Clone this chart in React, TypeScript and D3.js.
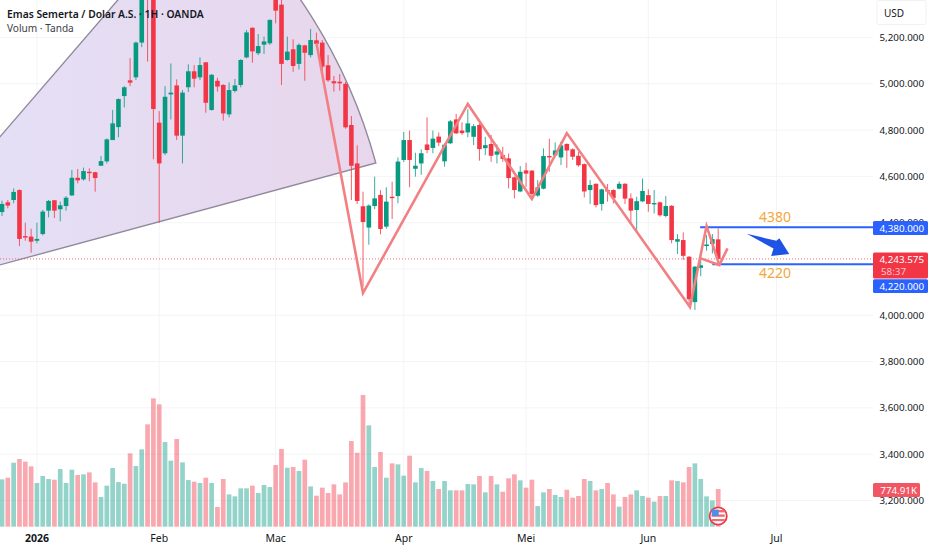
import React from "react";
import * as d3 from "d3";

const opens = [
  4446, 4488, 4498, 4541, 4342, 4340, 4322, 4351, 4452, 4497,
  4458, 4472, 4518, 4594, 4587, 4620, 4618, 4646, 4665, 4757,
  4813, 4947, 5015, 5028, 5178, 5560, 5395, 4832, 4700, 4954,
  4993, 4776, 4985, 5054, 5028, 5093, 4887, 5013, 4995, 4868,
  4969, 4995, 5114, 5242, 5132, 5169, 5175, 5420, 5342, 5103,
  5149, 5086, 5166, 5124, 5188, 5178, 5080, 5011, 5009, 5000,
  4822, 4656, 4471, 4379, 4472, 4520, 4383, 4512, 4515, 4671,
  4757, 4633, 4656, 4738, 4723, 4772, 4665, 4743, 4846, 4798,
  4790, 4771, 4822, 4722, 4740, 4694, 4692, 4678, 4596, 4535,
  4626, 4625, 4517, 4547, 4688, 4691, 4682, 4740, 4717, 4689,
  4653, 4541, 4568, 4481, 4541, 4541, 4547, 4568, 4505, 4455,
  4492, 4519, 4481, 4488, 4429, 4473, 4318, 4325, 4253, 4057,
  4205, 4299, 4308, 4328,
];
const highs = [
  4495, 4498, 4548, 4544, 4400, 4374, 4400, 4455, 4498, 4498,
  4491, 4515, 4628, 4632, 4638, 4635, 4620, 4688, 4764, 4887,
  4937, 4990, 5111, 5182, 5448, 5600, 5450, 4882, 4990, 5088,
  5019, 4973, 5084, 5081, 5114, 5093, 5042, 5026, 4998, 5006,
  5021, 5106, 5232, 5244, 5215, 5204, 5278, 5430, 5370, 5204,
  5192, 5175, 5168, 5237, 5221, 5189, 5124, 5034, 5042, 5009,
  4861, 4734, 4534, 4479, 4599, 4541, 4553, 4577, 4682, 4792,
  4798, 4702, 4717, 4855, 4798, 4790, 4743, 4844, 4870, 4834,
  4890, 4826, 4829, 4771, 4779, 4738, 4728, 4699, 4599, 4645,
  4659, 4627, 4584, 4721, 4763, 4747, 4750, 4743, 4721, 4707,
  4656, 4584, 4570, 4547, 4567, 4544, 4578, 4571, 4527, 4512,
  4591, 4544, 4541, 4491, 4515, 4476, 4351, 4358, 4256, 4213,
  4253, 4347, 4351, 4375,
];
const lows = [
  4429, 4462, 4484, 4299, 4322, 4270, 4311, 4345, 4423, 4420,
  4406, 4452, 4515, 4570, 4582, 4579, 4534, 4645, 4656, 4757,
  4769, 4898, 4990, 5016, 5158, 5096, 4674, 4400, 4692, 4846,
  4757, 4656, 4965, 4985, 5016, 4875, 4884, 4966, 4841, 4855,
  4962, 4985, 5110, 5091, 5124, 5129, 5168, 5261, 4995, 5100,
  5052, 5062, 5013, 5114, 5169, 5052, 5008, 4966, 4970, 4806,
  4498, 4481, 4124, 4305, 4458, 4350, 4374, 4416, 4484, 4662,
  4553, 4599, 4607, 4700, 4700, 4731, 4642, 4740, 4783, 4779,
  4769, 4735, 4668, 4692, 4663, 4656, 4663, 4548, 4505, 4532,
  4555, 4505, 4512, 4544, 4620, 4685, 4649, 4637, 4671, 4642,
  4509, 4481, 4466, 4452, 4491, 4483, 4544, 4481, 4397, 4361,
  4489, 4447, 4440, 4426, 4423, 4311, 4265, 4239, 4044, 4023,
  4169, 4279, 4267, 4213,
];
const closes = [
  4481, 4474, 4533, 4330, 4338, 4318, 4330, 4448, 4494, 4452,
  4475, 4508, 4594, 4583, 4623, 4615, 4593, 4666, 4760, 4829,
  4934, 4985, 5005, 5178, 5405, 5395, 4891, 4656, 4944, 4962,
  4776, 4962, 5054, 5022, 5081, 4918, 5039, 4988, 4872, 4973,
  4993, 5103, 5222, 5140, 5163, 5183, 5276, 5316, 5086, 5139,
  5077, 5168, 5134, 5189, 5172, 5074, 5015, 5002, 5002, 4812,
  4646, 4494, 4403, 4474, 4505, 4373, 4491, 4508, 4664, 4757,
  4671, 4646, 4700, 4714, 4763, 4746, 4737, 4838, 4786, 4787,
  4829, 4817, 4718, 4735, 4689, 4708, 4676, 4593, 4541, 4620,
  4612, 4524, 4553, 4688, 4684, 4712, 4734, 4712, 4685, 4648,
  4535, 4563, 4476, 4544, 4537, 4506, 4568, 4504, 4452, 4493,
  4537, 4481, 4485, 4432, 4472, 4325, 4329, 4257, 4069, 4210,
  4216, 4306, 4329, 4243.575,
];
const volumesK = [
  974, 1008, 1317, 1393, 1338, 1242, 899, 1043, 981, 967,
  1187, 899, 1173, 1063, 1077, 1118, 912, 611, 844, 1207,
  919, 885, 1509, 1249, 1592, 2106, 2641, 2518, 1742, 1358,
  1804, 1324, 960, 926, 899, 1008, 899, 405, 981, 665,
  624, 789, 789, 844, 693, 858, 816, 1269, 1598, 1214,
  1228, 1146, 1379, 830, 638, 803, 693, 871, 665, 912,
  1763, 1523, 2710, 2085, 1228, 1537, 1008, 1303, 1283, 1050,
  1461, 912, 1207, 1146, 940, 775, 940, 748, 748, 748,
  878, 871, 1043, 707, 1043, 871, 720, 995, 1077, 954,
  803, 967, 425, 707, 775, 652, 611, 761, 597, 631,
  981, 940, 748, 775, 899, 665, 412, 611, 665, 748,
  631, 597, 515, 631, 631, 954, 940, 912, 1228, 1303,
  981, 624, 542, 775,
];

const priceTicks = [5200, 5000, 4800, 4600, 4400, 4200, 4000, 3800, 3600, 3400, 3200];
const hiddenPriceLabels = [4200];
const monthTicks: [number, string][] = [
  [6, "2026"], [27, "Feb"], [47, "Mac"], [69, "Apr"], [90, "Mei"], [111, "Jun"], [133, "Jul"],
];
const lastPrice = 4243.575;
const lastVolumeLabel = "774.91K";
const levelHigh = 4380;
const levelLow = 4220;

// drawings, as [bar index, price]
const zigzag: [number, number][] = [
  [54, 5176], [62, 4096], [80, 4913], [91, 4502], [97, 4787], [118.15, 4036], [121, 4386], [123.2, 4217],
];
const checkMark: [number, number][] = [[120, 4246], [123.2, 4217], [124.6, 4289]];
const arrowShape: [number, number][] = [
  [127.9, 4352], [133, 4322], [133.5, 4333], [135.2, 4265], [132.1, 4256], [132.5, 4289],
];
const fanApex: [number, number] = [-25.1, 4049];
const fanLowerEnd: [number, number] = [64.2, 4658];
const fanUpperPoint: [number, number] = [19.9, 5362];

const W = 932;
const H = 550;
const plotRight = 873;
const FONT = "'Noto Sans', sans-serif";
const UP = "#089981";
const DOWN = "#F23645";
const AXIS_TEXT = "#131722";
const GRID = "#F3F4F6";

const x = d3.scaleLinear().domain([0, 123]).range([2, 718.2]);
const y = d3.scaleLinear().domain([3200, 5200]).range([500.5, 37.5]);
const yVol = d3.scaleLinear().domain([0, 2710]).range([526.7, 395]);
const fmt = d3.format(",.3f");
const pt = (p: [number, number]): [number, number] => [x(p[0]), y(p[1])];
const line = d3.line();

const bodyW = 4.6;
const volW = 4.7;

function fanPath() {
  const [ax, ay] = pt(fanApex);
  const [lx, ly] = pt(fanLowerEnd);
  const [ux, uy] = pt(fanUpperPoint);
  const r = Math.hypot(lx - ax, ly - ay);
  const a0 = Math.atan2(ux - ax, ay - uy);
  const a1 = Math.atan2(lx - ax, ay - ly);
  const d = d3.arc()({ innerRadius: 0, outerRadius: r, startAngle: a0, endAngle: a1 }) as string;
  return { d, ax, ay };
}

export default function App() {
  const fan = fanPath();
  const lastY = y(lastPrice);
  return (
    <svg
      width={W}
      height={H}
      viewBox={`0 0 ${W} ${H}`}
      style={{ position: "fixed", left: 0, top: 0, display: "block", background: "#fff" }}
      fontFamily={FONT}
    >
      <defs>
        <linearGradient id="fanFill" x1="0" x2="1" y1="0" y2="0">
          <stop offset="0" stopColor="#E3E3F9" />
          <stop offset="1" stopColor="#E8D6EC" />
        </linearGradient>
        <clipPath id="plot">
          <rect x={0} y={0} width={plotRight} height={526.7 + 2} />
        </clipPath>
      </defs>

      {/* grid */}
      {priceTicks.map((t) => (
        <line key={t} x1={0} x2={plotRight} y1={y(t)} y2={y(t)} stroke={GRID} />
      ))}
      {monthTicks.map(([i, l]) => (
        <line key={l} x1={x(i)} x2={x(i)} y1={0} y2={526.7} stroke={GRID} />
      ))}

      <g clipPath="url(#plot)">
        {/* fan */}
        <path
          d={fan.d}
          transform={`translate(${fan.ax},${fan.ay})`}
          fill="url(#fanFill)"
          stroke="#928A9C"
          strokeWidth={1.4}
        />

        {/* volume */}
        {volumesK.map((v, i) => (
          <rect
            key={i}
            x={x(i) - volW / 2}
            y={yVol(v)}
            width={volW}
            height={yVol(0) - yVol(v)}
            fill={closes[i] >= opens[i] ? UP : DOWN}
            fillOpacity={0.43}
          />
        ))}

        {/* last price line */}
        <line
          x1={0}
          x2={plotRight}
          y1={lastY}
          y2={lastY}
          stroke={DOWN}
          strokeWidth={1}
          strokeDasharray="1 2"
          opacity={0.7}
        />

        {/* candles */}
        {opens.map((o, i) => {
          const c = closes[i];
          const col = c >= o ? UP : DOWN;
          const top = y(Math.max(o, c));
          const bot = y(Math.min(o, c));
          return (
            <g key={i}>
              <line x1={x(i)} x2={x(i)} y1={y(highs[i])} y2={y(lows[i])} stroke={col} strokeWidth={1} strokeOpacity={0.8} />
              <rect x={x(i) - bodyW / 2} y={top} width={bodyW} height={Math.max(bot - top, 1.4)} fill={col} />
            </g>
          );
        })}

        {/* level lines */}
        <line x1={x(119.9)} x2={plotRight} y1={y(levelHigh)} y2={y(levelHigh)} stroke="#2962FF" strokeWidth={2} />
        <line x1={x(122)} x2={plotRight} y1={y(levelLow)} y2={y(levelLow)} stroke="#2962FF" strokeWidth={2} />

        {/* zigzag */}
        <path
          d={line(zigzag.map(pt)) as string}
          fill="none"
          stroke="#F28083"
          strokeWidth={2.6}
          strokeLinejoin="miter"
        />
        <path d={line(checkMark.map(pt)) as string} fill="none" stroke="#F28083" strokeWidth={2.6} />

        {/* arrow */}
        <path d={(line(arrowShape.map(pt)) as string) + "Z"} fill="#1E53E5" />
      </g>

      {/* level texts */}
      <text x={775} y={217} dy="0.36em" textAnchor="middle" fontSize={14} fill="#F5A63C">4380</text>
      <text x={775} y={272.6} dy="0.36em" textAnchor="middle" fontSize={14} fill="#F5A63C">4220</text>

      {/* legend */}
      <text x={7} y={18} fontSize={10.3} fontWeight={600} fill={AXIS_TEXT}>Emas Semerta / Dolar A.S. · 1H · OANDA</text>
      <text x={7} y={32} fontSize={10.1} fill="#3c4048">Volum · Tanda</text>

      {/* flag */}
      <g transform={`translate(${x(123)},${516})`}>
        <circle r={8.6} fill="#fff" stroke="#EC3A48" strokeWidth={1.8} />
        <rect x={-6.5} y={-6} width={13} height={2.4} fill="#F26A72" />
        <rect x={-6.5} y={-1.6} width={13} height={2.4} fill="#F26A72" />
        <rect x={-6.5} y={3} width={13} height={2.2} fill="#F26A72" />
        <rect x={-6.5} y={-6.5} width={7} height={6.5} fill="#4A90E8" />
      </g>

      {/* price axis */}
      <rect x={plotRight} y={0} width={W - plotRight} height={H} fill="#fff" />
      <rect x={877} y={0.5} width={49} height={24} rx={2} fill="#fff" stroke="#F0F1F3" />
      <text x={884} y={13} dy="0.36em" fontSize={10} fill={AXIS_TEXT}>USD</text>
      {priceTicks.filter((t) => !hiddenPriceLabels.includes(t)).map((t) => (
        <text key={t} x={924} y={y(t)} dy="0.36em" textAnchor="end" fontSize={9.8} fill={AXIS_TEXT}>
          {fmt(t)}
        </text>
      ))}

      {/* price badges */}
      <rect x={873} y={221} width={55} height={14} rx={1.5} fill="#2962FF" />
      <text x={924} y={228} dy="0.36em" textAnchor="end" fontSize={9.8} fill="#fff">{fmt(levelHigh)}</text>
      <rect x={873} y={252.5} width={55} height={26} rx={1.5} fill={DOWN} />
      <text x={924} y={259} dy="0.36em" textAnchor="end" fontSize={9.8} fill="#fff">{fmt(lastPrice)}</text>
      <text x={881} y={271.5} dy="0.36em" fontSize={9.8} fill="#FFC4C8">58:37</text>
      <rect x={873} y={279.3} width={55} height={13.7} rx={1.5} fill="#2962FF" />
      <text x={924} y={286} dy="0.36em" textAnchor="end" fontSize={9.8} fill="#fff">{fmt(levelLow)}</text>
      <rect x={873} y={483} width={47} height={14} rx={1.5} fill="#F25563" />
      <text x={917} y={490} dy="0.36em" textAnchor="end" fontSize={9.8} fill="#fff">{lastVolumeLabel}</text>

      {/* time axis */}
      {monthTicks.map(([i, l]) => (
        <text
          key={l}
          x={x(i)}
          y={538}
          dy="0.36em"
          textAnchor="middle"
          fontSize={10.5}
          fontWeight={l === "2026" ? 700 : 400}
          fill={AXIS_TEXT}
        >
          {l}
        </text>
      ))}
    </svg>
  );
}
